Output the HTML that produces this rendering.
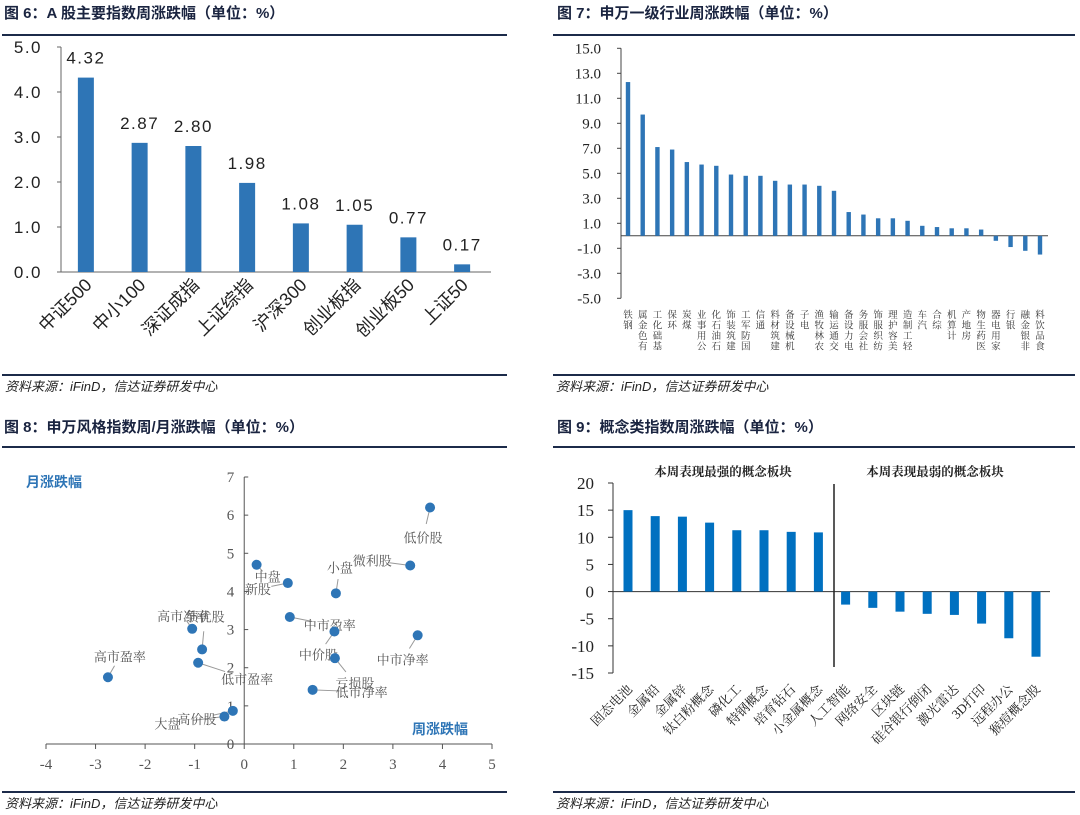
<!DOCTYPE html>
<html><head><meta charset="utf-8">
<style>
html,body{margin:0;padding:0;background:#fff;}
svg{display:block;}
.ttl{font-family:"Liberation Sans","Noto Sans CJK SC",sans-serif;font-weight:bold;font-size:15px;fill:#1a2440;}
.src{font-family:"Liberation Sans","Noto Sans CJK SC",sans-serif;font-style:italic;font-size:13px;fill:#222;}
.sans{font-family:"Liberation Sans","Noto Sans CJK SC",sans-serif;}
.serif{font-family:"Liberation Serif","Noto Serif CJK SC",serif;}
</style></head>
<body>
<svg id="fig" width="1080" height="815" viewBox="0 0 1080 815" xmlns="http://www.w3.org/2000/svg">
  <g>
    <text class="ttl" x="4" y="18">图 6：A 股主要指数周涨跌幅（单位：%）</text>
    <rect x="2" y="34" width="505" height="2" fill="#1c2b4a"/>
    <rect x="2" y="374" width="505" height="2" fill="#1c2b4a"/>
    <text class="src" x="5" y="391">资料来源：iFinD，信达证券研发中心</text>
  </g>
  <g>
    <text class="ttl" x="557" y="18">图 7：申万一级行业周涨跌幅（单位：%）</text>
    <rect x="553" y="34" width="522" height="2" fill="#1c2b4a"/>
    <rect x="553" y="374" width="522" height="2" fill="#1c2b4a"/>
    <text class="src" x="556" y="391">资料来源：iFinD，信达证券研发中心</text>
  </g>
  <g>
    <text class="ttl" x="4" y="432">图 8：申万风格指数周/月涨跌幅（单位：%）</text>
    <rect x="2" y="446" width="505" height="2" fill="#1c2b4a"/>
    <rect x="2" y="791" width="505" height="2" fill="#1c2b4a"/>
    <text class="src" x="5" y="808">资料来源：iFinD，信达证券研发中心</text>
  </g>
  <g>
    <text class="ttl" x="557" y="432">图 9：概念类指数周涨跌幅（单位：%）</text>
    <rect x="553" y="446" width="522" height="2" fill="#1c2b4a"/>
    <rect x="553" y="791" width="522" height="2" fill="#1c2b4a"/>
    <text class="src" x="556" y="808">资料来源：iFinD，信达证券研发中心</text>
  </g>
  <g id="p6"></g>
  <g id="p7"></g>
  <g id="p8"></g>
  <g id="p9"></g>
</svg>
<script>
// ---- Panel 6 data ----
const p6Categories = ["中证500","中小100","深证成指","上证综指","沪深300","创业板指","创业板50","上证50"];
const p6Values = [4.32,2.87,2.80,1.98,1.08,1.05,0.77,0.17];
const p6Ticks = [0,1,2,3,4,5];
// ---- Panel 7 data ----
const p7Categories = ["钢铁","有色金属","基础化工","环保","煤炭","公用事业","石油石化","建筑装饰","国防军工","通信","建筑材料","机械设备","电子","农林牧渔","交通运输","电力设备","社会服务","纺织服饰","美容护理","轻工制造","汽车","综合","计算机","房地产","医药生物","家用电器","银行","非银金融","食品饮料"];
const p7Values = [12.3,9.7,7.1,6.9,5.9,5.7,5.6,4.9,4.8,4.8,4.4,4.1,4.1,4.0,3.6,1.9,1.7,1.4,1.4,1.2,0.8,0.7,0.6,0.6,0.5,-0.4,-0.9,-1.2,-1.5];
const p7Ticks = [-5,-3,-1,1,3,5,7,9,11,13,15];
// ---- Panel 8 data ----
const p8Names = ["低价股","微利股","小盘","中盘","新股","中市盈率","中价股","亏损股","中市净率","低市净率","高市净率","绩优股","低市盈率","高市盈率","大盘","高价股"];
const p8Week = [3.75,3.35,1.85,0.25,0.88,0.92,1.82,1.83,3.5,1.38,-1.05,-0.85,-0.93,-2.75,-0.4,-0.23];
const p8Month = [6.2,4.68,3.95,4.7,4.22,3.33,2.95,2.25,2.85,1.42,3.02,2.48,2.13,1.75,0.72,0.87];
const p8XTicks = [-4,-3,-2,-1,0,1,2,3,4,5];
const p8YTicks = [0,1,2,3,4,5,6,7];
// ---- Panel 9 data ----
const p9Categories = ["固态电池","金属铅","金属锌","钛白粉概念","磷化工","特钢概念","培育钻石","小金属概念","人工智能","网络安全","区块链","硅谷银行倒闭","激光雷达","3D打印","远程办公","猴痘概念股"];
const p9Values = [15.0,13.9,13.8,12.7,11.3,11.3,11.0,10.9,-2.4,-3.0,-3.7,-4.1,-4.3,-5.9,-8.6,-12.0];
const p9Ticks = [-15,-10,-5,0,5,10,15,20];

const NS = "http://www.w3.org/2000/svg";
function mk(parent, tag, attrs, txt){
  const el = document.createElementNS(NS, tag);
  for (const k in attrs) el.setAttribute(k, attrs[k]);
  if (txt !== undefined) el.textContent = txt;
  parent.appendChild(el);
  return el;
}

// ================= Panel 6 =================
(function(){
  const g = document.getElementById('p6');
  const x0 = 61, x1 = 491, yTop = 47, yBot = 272, vMax = 5;
  const ys = v => yBot - (v / vMax) * (yBot - yTop);
  const step = (x1 - x0) / p6Categories.length;
  const xs = i => x0 + step * (i + 0.5) - 2;
  let ax = mk(g,'line',{x1:x0,y1:yTop,x2:x0,y2:yBot,stroke:'#666','stroke-width':1});
   
  ax = mk(g,'line',{x1:x0,y1:yBot,x2:x1,y2:yBot,stroke:'#666','stroke-width':1});
   
  p6Ticks.forEach(t => {
    const y = ys(t);
    mk(g,'line',{x1:x0-4,y1:y,x2:x0,y2:y,stroke:'#666'});
    const tl = mk(g,'text',{x:42,y:y+6,'text-anchor':'end','font-size':17,fill:'#222',class:'sans','letter-spacing':'1.5'}, t.toFixed(1));
     
  });
  p6Values.forEach((v,i) => {
    const cx = xs(i), y = ys(v);
    const b = mk(g,'rect',{x:cx-8,y:y,width:16,height:yBot-y,fill:'#2e75b6'});
     
    const vl = mk(g,'text',{x:cx,y:y-14,'text-anchor':'middle','font-size':17,fill:'#222',class:'sans','letter-spacing':'1.5'}, v.toFixed(2));
     
    const cl = mk(g,'text',{x:0,y:0,'text-anchor':'end','font-size':18,fill:'#222',class:'sans',transform:`translate(${cx+7},${yBot+14}) rotate(-45)`}, p6Categories[i]);
     
  });
})();

// ================= Panel 7 =================
(function(){
  const g = document.getElementById('p7');
  const x0 = 621, x1 = 1048, yTop = 48.3, yBot = 298.3, vMin = -5, vMax = 15;
  const ys = v => yBot - (v - vMin) / (vMax - vMin) * (yBot - yTop);
  const first = 628, step = (1040 - 628) / (p7Categories.length - 1);
  const xs = i => first + step * i;
  let ax = mk(g,'line',{x1:x0,y1:yTop,x2:x0,y2:yBot,stroke:'#444'});
   
  ax = mk(g,'line',{x1:x0,y1:ys(0),x2:x1,y2:ys(0),stroke:'#444'});
   
  p7Ticks.forEach(t => {
    const y = ys(t);
    mk(g,'line',{x1:x0-4,y1:y,x2:x0,y2:y,stroke:'#444'});
    const tl = mk(g,'text',{x:601,y:y+5,'text-anchor':'end','font-size':15,fill:'#222',class:'serif'}, t.toFixed(1));
     
  });
  p7Values.forEach((v,i) => {
    const cx = xs(i), y0 = ys(0), y = ys(v);
    const b = mk(g,'rect',{x:cx-2.2,y:Math.min(y,y0),width:4.4,height:Math.abs(y0-y),fill:'#2e75b6'});
     
    const name = p7Categories[i];
    const chars = name.split('').reverse();
    const lab = mk(g,'text',{'font-size':9.5,fill:'#333',class:'serif','text-anchor':'middle'});
     
    chars.forEach((c,k) => {
      mk(lab,'tspan',{x:cx,y:318 + k*10.5}, c);
    });
  });
})();

// ================= Panel 8 =================
(function(){
  const g = document.getElementById('p8');
  const xMin=-4,xMax=5,pxL=46,pxR=492;
  const yMin=0,yMax=7,pyB=744,pyT=477;
  const xs = v => pxL + (v-xMin)/(xMax-xMin)*(pxR-pxL);
  const ys = v => pyB - (v-yMin)/(yMax-yMin)*(pyB-pyT);
  let ax = mk(g,'line',{x1:pxL,y1:ys(0),x2:pxR,y2:ys(0),stroke:'#555'});
   
  ax = mk(g,'line',{x1:xs(0),y1:pyT,x2:xs(0),y2:pyB,stroke:'#555'});
   
  p8XTicks.forEach(t => {
    const x = xs(t);
    mk(g,'line',{x1:x,y1:pyB,x2:x,y2:pyB+5,stroke:'#555'});
    const tl = mk(g,'text',{x:x,y:pyB+25,'text-anchor':'middle','font-size':15,fill:'#555',class:'serif'}, String(t));
     
  });
  p8YTicks.forEach(t => {
    const y = ys(t);
    mk(g,'line',{x1:xs(0),y1:y,x2:xs(0)+4,y2:y,stroke:'#555'});
    const tl = mk(g,'text',{x:xs(0)-10,y:y+5,'text-anchor':'end','font-size':15,fill:'#555',class:'serif'}, String(t));
     
  });
  // label offsets (pixel style) relative to point
  const off = [[-7,35],[-38,0],[4,-21],[11,17],[-30,11],[40,13],[-16,28],[20,30],[-15,29],[49,7],[-9,-8],[3,-28],[49,21],[12,-16],[-57,12],[-36,13]];
  p8Week.forEach((w,i) => {
    const cx = xs(w), cy = ys(p8Month[i]);
    const [dx,dy] = off[i];
    mk(g,'line',{x1:cx,y1:cy,x2:cx+dx*0.55,y2:cy+(dy-5)*0.55,stroke:'#999','stroke-width':1});
    const lab = mk(g,'text',{x:cx+dx,y:cy+dy,'text-anchor':'middle','font-size':13,fill:'#555',class:'serif'}, p8Names[i]);
     
  });
  p8Week.forEach((w,i) => {
    const pt = mk(g,'circle',{cx:xs(w),cy:ys(p8Month[i]),r:5,fill:'#2e75b6'});
     
  });
  let t = mk(g,'text',{x:26,y:487,'font-size':14,'font-weight':'bold',fill:'#2e75b6',class:'sans'},'月涨跌幅');
   
  t = mk(g,'text',{x:412,y:734,'font-size':14,'font-weight':'bold',fill:'#2e75b6',class:'sans'},'周涨跌幅');
   
})();

// ================= Panel 9 =================
(function(){
  const g = document.getElementById('p9');
  const x0 = 613, x1 = 1050, vMin=-15, vMax=20, pyB=673, pyT=483;
  const ys = v => pyB - (v-vMin)/(vMax-vMin)*(pyB-pyT);
  const first = 628, step = (1036-628)/(p9Categories.length-1);
  const xs = i => first + step*i;
  let ax = mk(g,'line',{x1:x0,y1:pyT,x2:x0,y2:pyB,stroke:'#333'});
   
  ax = mk(g,'line',{x1:x0,y1:ys(0),x2:x1,y2:ys(0),stroke:'#333'});
   
  p9Ticks.forEach(t => {
    const y = ys(t);
    mk(g,'line',{x1:x0-5,y1:y,x2:x0,y2:y,stroke:'#333'});
    const tl = mk(g,'text',{x:594,y:y+6,'text-anchor':'end','font-size':17,fill:'#222',class:'serif'}, String(t));
     
  });
  let dv = mk(g,'line',{x1:834,y1:484,x2:834,y2:667,stroke:'#222','stroke-width':1.5});
   
  let h = mk(g,'text',{x:723,y:476,'text-anchor':'middle','font-size':12.5,'font-weight':'bold',fill:'#222',class:'serif'},'本周表现最强的概念板块');
   
  h = mk(g,'text',{x:935,y:476,'text-anchor':'middle','font-size':12.5,'font-weight':'bold',fill:'#222',class:'serif'},'本周表现最弱的概念板块');
   
  p9Values.forEach((v,i) => {
    const cx = xs(i), y0 = ys(0), y = ys(v);
    const b = mk(g,'rect',{x:cx-4.5,y:Math.min(y,y0),width:9,height:Math.abs(y0-y),fill:'#0070c0'});
     
    const cl = mk(g,'text',{x:0,y:0,'text-anchor':'end','font-size':13,fill:'#222',class:'serif',transform:`translate(${cx+5},${690}) rotate(-45)`}, p9Categories[i]);
     
  });
})();
</script>
</body></html>
